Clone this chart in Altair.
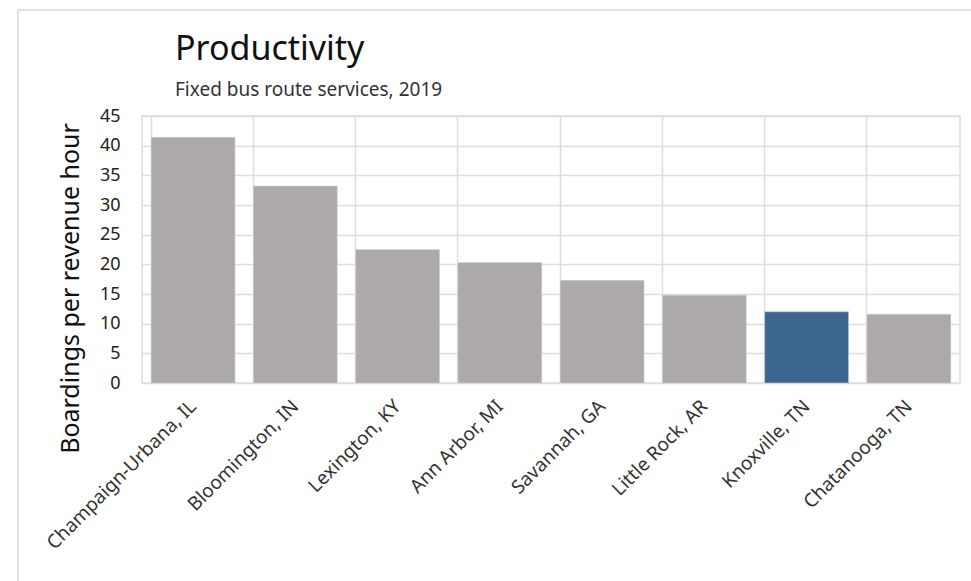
import altair as alt
import pandas as pd

cities = ["Champaign-Urbana, IL", "Bloomington, IN", "Lexington, KY", "Ann Arbor, MI",
          "Savannah, GA", "Little Rock, AR", "Knoxville, TN", "Chatanooga, TN"]
values = [41.4, 33.2, 22.5, 20.3, 17.3, 14.8, 12.0, 11.6]
highlight = ["other", "other", "other", "other", "other", "other", "focus", "other"]

df = pd.DataFrame({"city": cities, "value": values, "group": highlight})

FONT = "Noto Sans"

frame = alt.Chart(pd.DataFrame({"a": [0]})).mark_rect(
    fill=None, stroke="#d9d9d9", strokeWidth=1.5, clip=False
).encode(
    x=alt.value(-124), x2=alt.value(900),
    y=alt.value(-106), y2=alt.value(600),
)

bars = alt.Chart(df).mark_bar(stroke="#d0d0d0", strokeWidth=0.5).encode(
    x=alt.X("city:N", sort=cities, title=None,
            scale=alt.Scale(paddingInner=0.18, paddingOuter=0.09),
            axis=alt.Axis(labelAngle=-45, labelFontSize=19, labelColor="#333333",
                          labelFont=FONT, ticks=False, domain=False, grid=True,
                          bandPosition=0, gridColor="#dddddd", gridWidth=1.5,
                          labelLimit=0, labelPadding=20, labelAlign="right",
                          labelBaseline="middle")),
    y=alt.Y("value:Q", title="Boardings per revenue hour",
            scale=alt.Scale(domain=[0, 45], nice=False),
            axis=alt.Axis(values=list(range(0, 50, 5)), labelFontSize=18, labelFont=FONT,
                          labelColor="#222222", ticks=False, domain=False,
                          gridColor="#dddddd", gridWidth=1.5, labelPadding=22,
                          titleFontSize=25, titleFont=FONT, titleFontWeight="normal",
                          titleColor="#111111", titleX=-72, titleY=172,
                          titleAlign="center", titleBaseline="middle", titleAngle=-90)),
    color=alt.Color("group:N", scale=alt.Scale(domain=["other", "focus"],
                                                range=["#ADA9A8", "#3C6690"]),
                    legend=None),
)

chart = alt.layer(frame, bars).properties(
    width=818, height=267,
    title=alt.Title("Productivity", subtitle="Fixed bus route services, 2019",
                    anchor="start", frame="group", dx=33, fontSize=34, font=FONT,
                    fontWeight="normal", color="#111111", subtitleFont=FONT,
                    subtitleFontSize=19, subtitleColor="#333333", subtitlePadding=14,
                    offset=-91),
    autosize=alt.AutoSizeParams(type="none"),
    padding={"left": 142, "top": 116, "right": 11, "bottom": 198},
).configure_view(stroke="#dddddd", strokeWidth=1.5)

chart.save("out.html", embed_options={"renderer": "svg", "actions": False})
